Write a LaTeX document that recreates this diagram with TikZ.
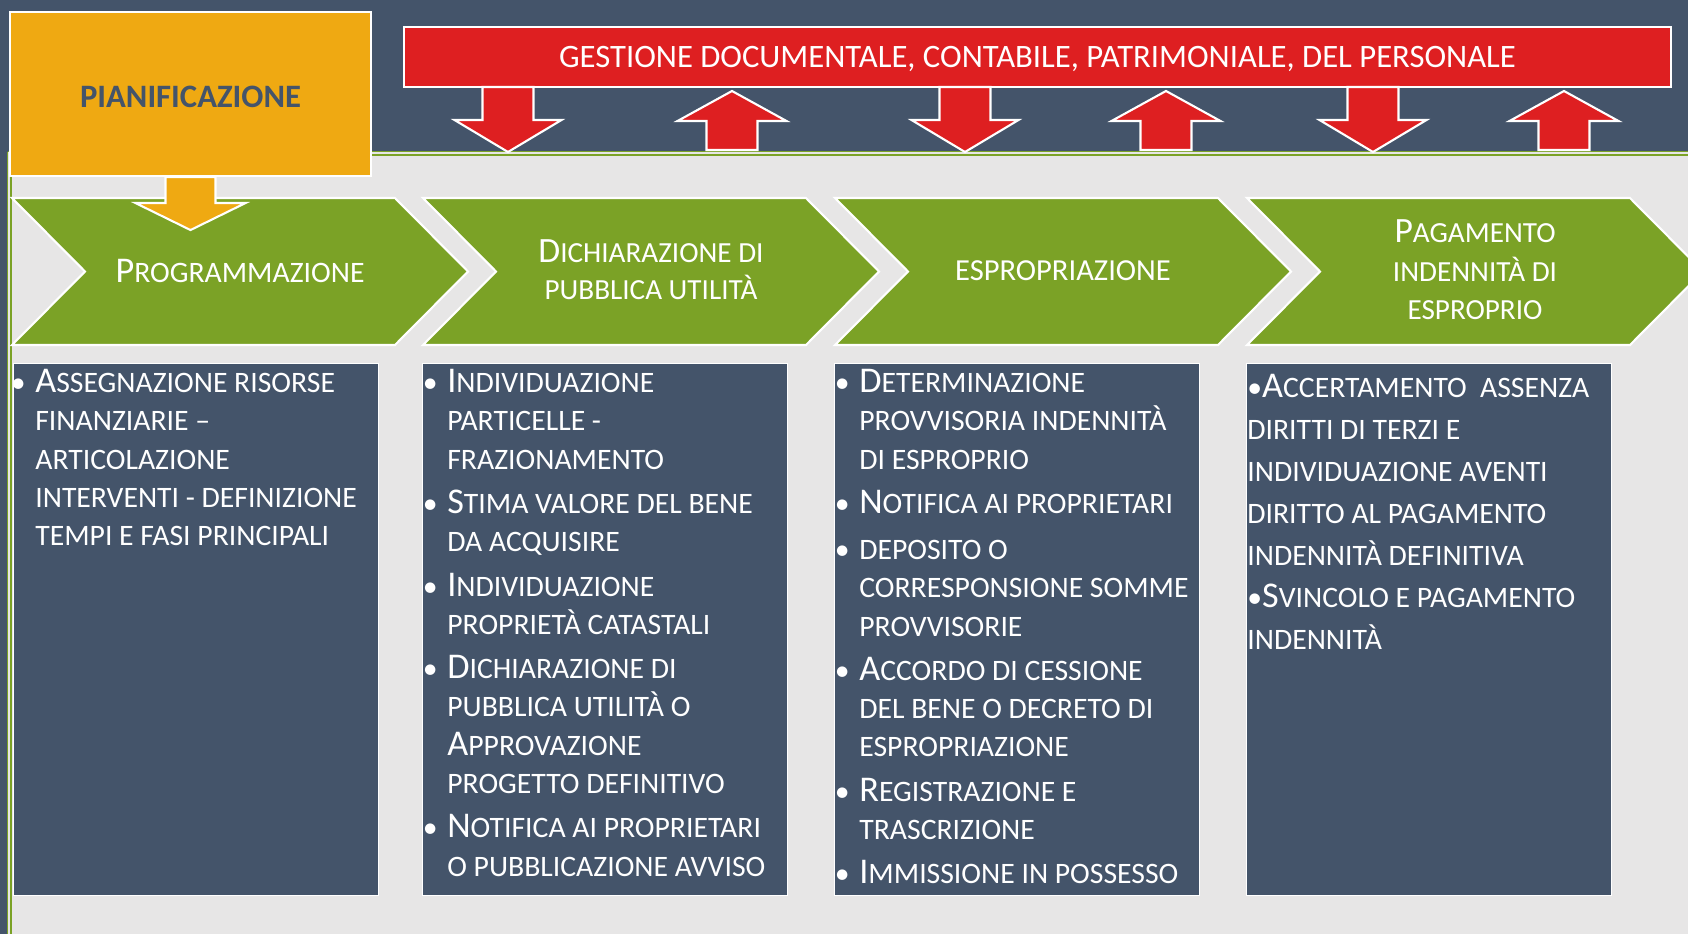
\documentclass[tikz,border=0pt]{standalone}
\usepackage{fontspec}
\setmainfont{Carlito}
\usepackage{graphicx}
\usepackage{xcolor}
\definecolor{epslate}{RGB}{68,84,106}
\definecolor{epgray}{RGB}{231,230,230}
\definecolor{epgreen}{RGB}{123,162,38}
\definecolor{eporange}{RGB}{239,169,18}
\definecolor{epred}{RGB}{222,31,33}
\newcommand{\iniz}[1]{\scalebox{1.22}{#1}}
\newcommand{\bul}{\llap{\textbullet\hspace{5.5pt}}}
\tikzstyle{plan} = [rectangle, draw=white, line width=1.2pt, fill=eporange]
\tikzstyle{banner} = [rectangle, draw=white, line width=1.2pt, fill=epred]
\tikzstyle{blockarrow} = [draw=white, line width=1.2pt, line join=miter, fill=epred]
\tikzstyle{chevron} = [draw=white, line width=1.2pt, fill=epgreen]
\tikzstyle{phase} = [text=white, align=center, inner sep=0pt]
\tikzstyle{colbox} = [rectangle, draw=white, line width=0.8pt, fill=epslate, minimum width=7.3cm, minimum height=10.64cm, anchor=north west, inner sep=0pt]
\tikzstyle{bodytext} = [text=white, align=left, anchor=north west, inner sep=0pt, font=\fontsize{16.9}{21.8}\selectfont]
\tikzset{
  downarr/.pic={\draw[blockarrow] (-25.5,0) -- (25.5,0) -- (25.5,33) -- (53.5,33) -- (0,65) -- (-53.5,33) -- (-25.5,33) -- cycle;},
  uparr/.pic={\draw[blockarrow] (0,0) -- (54.5,30) -- (25.5,30) -- (25.5,59) -- (-25.5,59) -- (-25.5,30) -- (-54.5,30) -- cycle;}
}

\begin{document}
\begin{tikzpicture}[x=0.02cm, y=-0.02cm]
\path[use as bounding box, clip] (0,0) rectangle (1688,934);

% Sfondo
\fill[epgray] (0,0) rectangle (1688,934);
\fill[epslate] (0,0) rectangle (1688,152);
\fill[epslate] (0,152) rectangle (7,934);
\draw[epgreen, line width=0.9pt] (7.5,151.5) -- (1688,151.5) (11,155) -- (1688,155);
\draw[epgreen, line width=0.9pt] (7.5,151.5) -- (7.5,934) (11,155) -- (11,934);

% Gestione
\node[banner, minimum width=25.34cm, minimum height=1.2cm, text=white, text height=12.5pt, text depth=0pt, font=\fontsize{18.6}{20}\selectfont] (gest) at (1037.5,57) {GESTIONE DOCUMENTALE, CONTABILE, PATRIMONIALE, DEL PERSONALE};
\foreach \x in {508,965,1373} \pic at (\x,87) {downarr};
\foreach \x in {732,1166,1564} \pic at (\x,91) {uparr};

% Fasi
\foreach \x in {12,423,835,1247}
  \draw[chevron] (\x,198) -- ++(383,0) -- ++(73,73.5) -- ++(-73,73.5) -- ++(-383,0) -- ++(73,-73.5) -- cycle;
\node[phase, anchor=base, font=\fontsize{16.9}{21}\selectfont] (prog) at (240,282) {\iniz{P}ROGRAMMAZIONE};
\node[phase, font=\fontsize{16.6}{21}\selectfont] (dich) at (651,270) {\iniz{D}ICHIARAZIONE DI\\PUBBLICA UTILITÀ};
\node[phase, anchor=base, font=\fontsize{17.4}{21}\selectfont] (espr) at (1063,280.5) {ESPROPRIAZIONE};
\node[phase, font=\fontsize{16.6}{21.9}\selectfont] (paga) at (1475,270) {\iniz{P}AGAMENTO\\INDENNITÀ DI\\ESPROPRIO};

% Pianificazione
\node[plan, minimum width=7.22cm, minimum height=3.28cm, text=epslate, text height=14.8pt, text depth=0pt, font=\bfseries\fontsize{18.6}{20}\selectfont] (pian) at (190.5,94) {PIANIFICAZIONE};
\draw[plan, shift={(pian.south)}] (-25,0) -- (25,0) -- (25,26) -- (55,26) -- (0,53) -- (-55,26) -- (-25,26) -- cycle;

% Colonne
\foreach \i/\x in {1/13,2/422,3/834,4/1246}
  \node[colbox] (col\i) at (\x,363) {};

\node[bodytext] (att1) at (35,369) {\bul\iniz{A}SSEGNAZIONE RISORSE\\
FINANZIARIE --\\
ARTICOLAZIONE\\
INTERVENTI - DEFINIZIONE\\
TEMPI E FASI PRINCIPALI};

\node[bodytext] (att2) at (447,369) {\bul\iniz{I}NDIVIDUAZIONE\\
PARTICELLE -\\
FRAZIONAMENTO\\[3.4pt]
\bul\iniz{S}TIMA VALORE DEL BENE\\
DA ACQUISIRE\\[3.4pt]
\bul\iniz{I}NDIVIDUAZIONE\\
PROPRIETÀ CATASTALI\\[3.4pt]
\bul\iniz{D}ICHIARAZIONE DI\\
PUBBLICA UTILITÀ O\\
\iniz{A}PPROVAZIONE\\
PROGETTO DEFINITIVO\\[3.4pt]
\bul\iniz{N}OTIFICA AI PROPRIETARI\\
O PUBBLICAZIONE AVVISO};

\node[bodytext] (att3) at (859,369) {\bul\iniz{D}ETERMINAZIONE\\
PROVVISORIA INDENNITÀ\\
DI ESPROPRIO\\[3.4pt]
\bul\iniz{N}OTIFICA AI PROPRIETARI\\[4.4pt]
\bul DEPOSITO O\\
CORRESPONSIONE SOMME\\
PROVVISORIE\\[3.4pt]
\bul\iniz{A}CCORDO DI CESSIONE\\
DEL BENE O DECRETO DI\\
ESPROPRIAZIONE\\[3.4pt]
\bul\iniz{R}EGISTRAZIONE E\\
TRASCRIZIONE\\[3.4pt]
\bul\iniz{I}MMISSIONE IN POSSESSO};

\node[bodytext, font=\fontsize{16.9}{23.9}\selectfont] (att4) at (1247,374) {\textbullet\iniz{A}CCERTAMENTO\ \ ASSENZA\\
DIRITTI DI TERZI E\\
INDIVIDUAZIONE AVENTI\\
DIRITTO AL PAGAMENTO\\
INDENNITÀ DEFINITIVA\\
\textbullet\iniz{S}VINCOLO E PAGAMENTO\\
INDENNITÀ};
\end{tikzpicture}
\end{document}
